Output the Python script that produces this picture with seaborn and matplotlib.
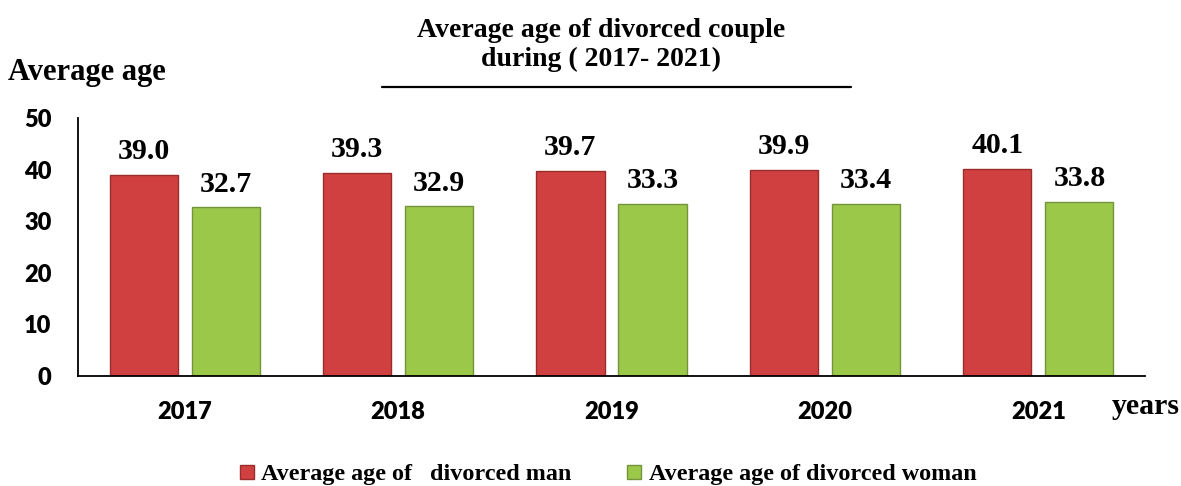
import matplotlib
matplotlib.use("Agg")
import matplotlib.pyplot as plt
from matplotlib.lines import Line2D
import seaborn as sns
import pandas as pd

years = ["2017", "2018", "2019", "2020", "2021"]
men = [39.0, 39.3, 39.7, 39.9, 40.1]
women = [32.7, 32.9, 33.3, 33.4, 33.8]
series_names = ["Average age of   divorced man", "Average age of divorced woman"]
y_ticks = [0, 10, 20, 30, 40, 50]

df = pd.DataFrame({
    "year": years * 2,
    "value": men + women,
    "series": [series_names[0]] * len(years) + [series_names[1]] * len(years),
})

sns.set_style("white")
plt.rcParams["font.family"] = ["DejaVu Sans"]
for k in ["text.color", "axes.labelcolor", "xtick.color", "ytick.color"]:
    plt.rcParams[k] = "black"

red = "#D04040"
green = "#9CC84A"
red_edge = "#9A2C2C"
green_edge = "#73943A"

W, H = 1181, 486
fig = plt.figure(figsize=(W / 100, H / 100), dpi=100)
ax = fig.add_axes([78 / W, (H - 376) / H, (1145 - 78) / W, (376 - 118) / H])

sns.barplot(data=df, x="year", y="value", hue="series", order=years,
            hue_order=series_names, palette=[red, green], width=0.77,
            gap=0.17, ax=ax, legend=False, saturation=1)

edges = [red_edge, green_edge]
for cont, ec in zip(ax.containers, edges):
    for p in cont:
        p.set_edgecolor(ec)
        p.set_linewidth(1.0)
    ax.bar_label(cont, fmt="%.1f", padding=7, fontsize=21.5,
                 fontweight="bold", family="Liberation Serif", color="black")

ax.set_ylim(0, 50)
ax.set_xlim(-0.5, 4.5)
ax.set_yticks(y_ticks)
ax.set_yticklabels([str(t) for t in y_ticks], fontsize=17, fontweight="heavy",
                   family="Lato")
ax.set_xticks(range(len(years)))
ax.set_xticklabels(years, fontsize=17, fontweight="heavy", family="Lato")
ax.tick_params(axis="both", length=0)
ax.tick_params(axis="x", pad=18)
ax.tick_params(axis="y", pad=19)
ax.set_xlabel("")
ax.set_ylabel("")
for s in ["top", "right"]:
    ax.spines[s].set_visible(False)
for s in ["left", "bottom"]:
    ax.spines[s].set_color("black")
    ax.spines[s].set_linewidth(1.3)

serif = dict(fontweight="bold", family="Liberation Serif", color="black")
fig.text(601 / W, 1 - 37 / H, "Average age of divorced couple",
         ha="center", va="baseline", fontsize=20, **serif)
fig.text(601 / W, 1 - 66 / H, "during ( 2017- 2021)",
         ha="center", va="baseline", fontsize=20, **serif)
fig.add_artist(Line2D([382 / W, 851 / W], [1 - 87 / H, 1 - 87 / H],
                      color="black", lw=1.6, transform=fig.transFigure))
fig.text(8 / W, 1 - 80 / H, "Average age", ha="left", va="baseline",
         fontsize=22, **serif)
fig.text(1112 / W, 1 - 414 / H, "years", ha="left", va="baseline",
         fontsize=21.5, **serif)

handles = [Line2D([], [], marker="s", linestyle="none", markersize=10.5,
                  markerfacecolor=c, markeredgecolor=e)
           for c, e in zip([red, green], edges)]
fig.legend(handles, series_names, loc="center left", ncol=2,
           bbox_to_anchor=(237 / W, 1 - 474 / H), frameon=False,
           prop={"family": "Liberation Serif", "weight": "bold", "size": 17.4},
           handletextpad=0.2, columnspacing=2.2, handlelength=0.8,
           borderpad=0, borderaxespad=0)

fig.savefig("out.png", dpi=100)
